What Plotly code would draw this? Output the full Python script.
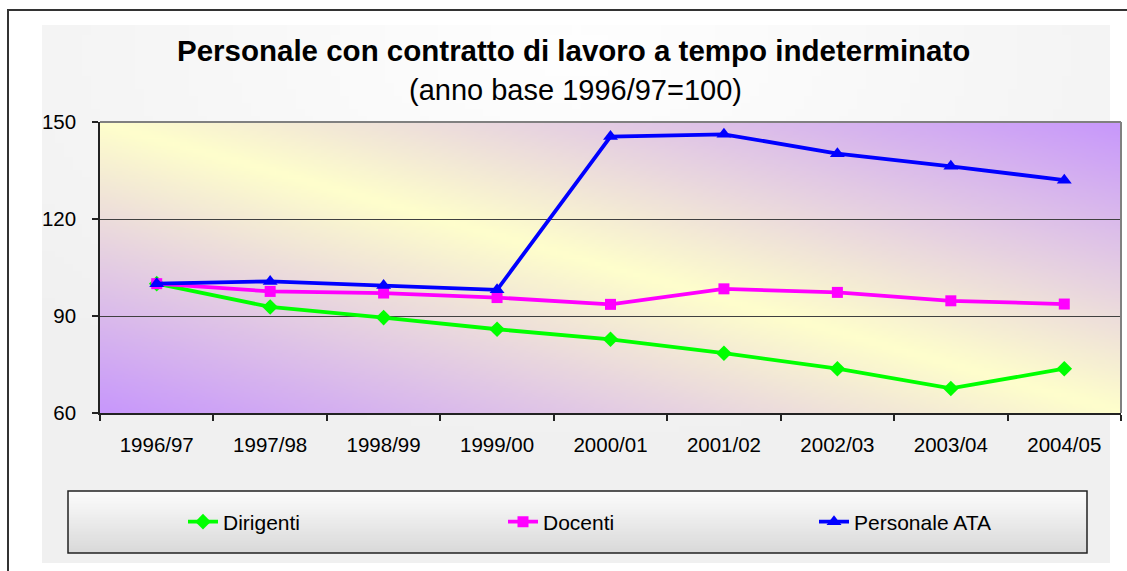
import zlib, struct, base64
import plotly.graph_objects as go

# ---------------- data ----------------
categories = ["1996/97", "1997/98", "1998/99", "1999/00", "2000/01",
              "2001/02", "2002/03", "2003/04", "2004/05"]
dirigenti = [100, 92.8, 89.5, 85.9, 82.8, 78.5, 73.7, 67.6, 73.7]
docenti = [100, 97.6, 97.1, 95.7, 93.6, 98.4, 97.3, 94.7, 93.7]
personale_ata = [100, 100.7, 99.4, 98.1, 145.5, 146.2, 140.2, 136.3, 132.0]
y_ticks = [60, 90, 120, 150]

title_text = "Personale con contratto di lavoro a tempo indeterminato"
subtitle_text = "(anno base 1996/97=100)"

# ---------------- geometry helpers ----------------
W, H = 1127, 571
L, R, T, B = 100, 6, 122, 158
PW, PH = W - L - R, H - T - B


def px(x):
    return (x - L) / PW


def py(y):
    return (H - B - y) / PH


def png_uri(w, h, fn):
    raw = bytearray()
    for j in range(h):
        raw.append(0)
        for i in range(w):
            r, g, b = fn(i / (w - 1), j / (h - 1))
            raw += bytes((int(r), int(g), int(b)))

    def chunk(t, d):
        c = struct.pack(">I", len(d)) + t + d
        return c + struct.pack(">I", zlib.crc32(t + d) & 0xFFFFFFFF)

    png = (b"\x89PNG\r\n\x1a\n"
           + chunk(b"IHDR", struct.pack(">IIBBBBB", w, h, 8, 2, 0, 0, 0))
           + chunk(b"IDAT", zlib.compress(bytes(raw), 9))
           + chunk(b"IEND", b""))
    return "data:image/png;base64," + base64.b64encode(png).decode()


def mix(c1, c2, t):
    t = max(0.0, min(1.0, t))
    return tuple(a + (b - a) * t for a, b in zip(c1, c2))


YELLOW = (255, 255, 204)
PURPLE = (200, 152, 252)


def plot_bg(u, v):
    return mix(YELLOW, PURPLE, abs(u - v))


def outer_bg(u, v):
    d = ((u - 0.5) ** 2 * 1.2 + (v - 0.05) ** 2) ** 0.5
    return mix((255, 255, 255), (240, 240, 240), d * 1.3)


def legend_bg(u, v):
    return mix((253, 253, 253), (218, 218, 218), v)


FONT = "Liberation Sans, Arial, sans-serif"

fig = go.Figure()
fig.add_trace(go.Scatter(
    x=categories, y=dirigenti, name="Dirigenti", mode="lines+markers",
    line=dict(color="#00FF00", width=3.8), legendwidth=275,
    marker=dict(symbol="diamond", size=12, color="#00FF00")))
fig.add_trace(go.Scatter(
    x=categories, y=docenti, name="Docenti", mode="lines+markers",
    line=dict(color="#FF00FF", width=3.8), legendwidth=266,
    marker=dict(symbol="square", size=11, color="#FF00FF")))
fig.add_trace(go.Scatter(
    x=categories, y=personale_ata, name="Personale ATA", mode="lines+markers",
    line=dict(color="#0000FF", width=3.8), legendwidth=150,
    marker=dict(symbol="triangle-up", size=13, color="#0000FF")))

images = [
    dict(source=png_uri(120, 80, outer_bg), xref="paper", yref="paper",
         x=px(42), y=py(25), sizex=px(1110) - px(42), sizey=py(25) - py(563),
         xanchor="left", yanchor="top", sizing="stretch", layer="below"),
    dict(source=png_uri(160, 80, plot_bg), xref="paper", yref="paper",
         x=0, y=1, sizex=1, sizey=1, xanchor="left", yanchor="top",
         sizing="stretch", layer="below"),
    dict(source=png_uri(20, 40, legend_bg), xref="paper", yref="paper",
         x=px(68), y=py(491), sizex=px(1087) - px(68), sizey=py(491) - py(553),
         xanchor="left", yanchor="top", sizing="stretch", layer="below"),
]

shapes = [
    # outer frame
    dict(type="rect", xref="paper", yref="paper", x0=px(8), y0=py(10),
         x1=px(1140), y1=py(590), line=dict(color="#333333", width=2),
         fillcolor="rgba(0,0,0,0)", layer="below"),
    # legend box
    dict(type="rect", xref="paper", yref="paper", x0=px(68), y0=py(491),
         x1=px(1087), y1=py(553), line=dict(color="#222222", width=1.5),
         fillcolor="rgba(0,0,0,0)", layer="below"),
    # plot area top / right border
    dict(type="line", xref="paper", yref="paper", x0=0, y0=1, x1=1, y1=1,
         line=dict(color="#808080", width=2), layer="above"),
    dict(type="line", xref="paper", yref="paper", x0=1, y0=0, x1=1, y1=1,
         line=dict(color="#808080", width=2), layer="above"),
]

annotations = [
    dict(text="<b>" + title_text + "</b>", xref="paper", yref="paper",
         x=px(573.5), y=py(50), xanchor="center", yanchor="middle",
         showarrow=False, font=dict(family=FONT, size=29.5, color="black")),
    dict(text=subtitle_text, xref="paper", yref="paper",
         x=px(575), y=py(90), xanchor="center", yanchor="middle",
         showarrow=False, font=dict(family=FONT, size=29, color="black")),
]

fig.update_layout(
    width=W, height=H,
    margin=dict(l=L, r=R, t=T, b=B),
    paper_bgcolor="white",
    plot_bgcolor="rgba(0,0,0,0)",
    font=dict(family=FONT, size=20, color="black"),
    images=images, shapes=shapes, annotations=annotations,
    showlegend=True,
    legend=dict(orientation="h", x=px(183), xanchor="left",
                y=py(522), yanchor="middle", bgcolor="rgba(0,0,0,0)",
                borderwidth=0,
                font=dict(family=FONT, size=21, color="black"),
                traceorder="normal"),
    xaxis=dict(type="category", categoryorder="array", categoryarray=categories,
               range=[-0.5, len(categories) - 0.5], showgrid=False,
               showline=True, linecolor="#222222", linewidth=1.5,
               ticks="outside", tickson="boundaries", ticklen=6,
               tickcolor="#222222", tickwidth=1.5, ticklabelstandoff=13,
               tickfont=dict(family=FONT, size=20.5), zeroline=False,
               fixedrange=True),
    yaxis=dict(range=[60, 150], tickvals=y_ticks, showgrid=True,
               gridcolor="#404040", gridwidth=1, showline=True,
               linecolor="#222222", linewidth=1.5, ticks="outside", ticklen=6,
               tickcolor="#222222", tickwidth=1.5, ticklabelstandoff=12,
               tickfont=dict(family=FONT, size=20.5), zeroline=False,
               fixedrange=True),
)

fig.write_html("out.html", config={"displayModeBar": False},
               post_script="document.body.style.margin='0';")
